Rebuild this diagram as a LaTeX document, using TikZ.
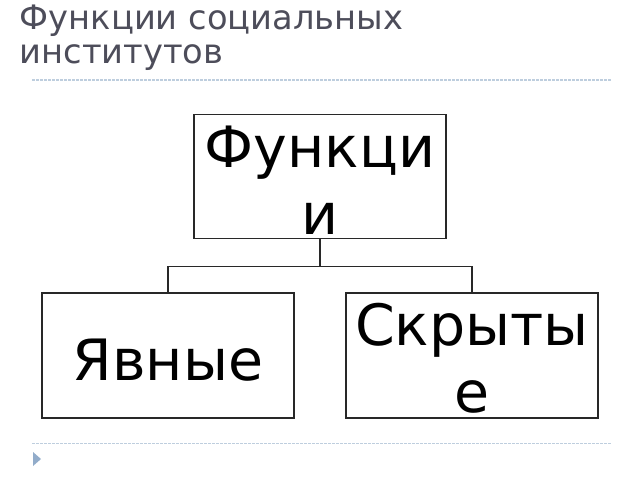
\documentclass[tikz,border=0pt]{standalone}
\usepackage{fontspec}
\setmainfont{DejaVu Sans}
\definecolor{titlegray}{RGB}{77,77,90}
\definecolor{dotblue}{RGB}{190,206,222}
\definecolor{tri}{RGB}{146,172,202}
\definecolor{boxline}{RGB}{40,40,40}
\begin{document}
\begin{tikzpicture}[x=1pt,y=-1pt,
  box/.style={draw=boxline,line width=1.2pt,minimum width=252pt,minimum height=125pt,
    inner sep=0pt,align=center,font=\fontsize{57}{67}\selectfont},
  title/.style={anchor=base west,inner sep=0pt,text=titlegray,font=\fontsize{33.7}{34}\selectfont},
  rule/.style={draw=dotblue,line width=1.1pt,dash pattern=on 2.5pt off 1.5pt},
  conn/.style={draw=boxline,line width=1.2pt}]
\useasboundingbox (0,0) rectangle (640,480);
\node[title] (t1) at (19.5,29.5) {Функции социальных};
\node[title] (t2) at (19.5,63) {институтов};
\coordinate (r1a) at (32,80);
\coordinate (r1b) at (611,80);
\coordinate (r2a) at (32,443.5);
\coordinate (r2b) at (611,443.5);
\draw[rule] (r1a) -- (r1b);
\draw[rule] (r2a) -- (r2b);
\fill[tri] (33,452) -- (41,459) -- (33,466) -- cycle;
\node[box,minimum height=124pt] (f) at (320,176.3) {\rule{0pt}{49pt}Функци\\и};
\node[box] (l) at (168,355.5) {\rule{0pt}{51pt}Явные};
\node[box] (r) at (472,355.5) {\rule{0pt}{48pt}Скрыты\\е};
\coordinate (j) at (320,266.5);
\draw[conn] (f.south) -- (j);
\draw[conn] (j) -| (l.north);
\draw[conn] (j) -| (r.north);
\end{tikzpicture}
\end{document}
